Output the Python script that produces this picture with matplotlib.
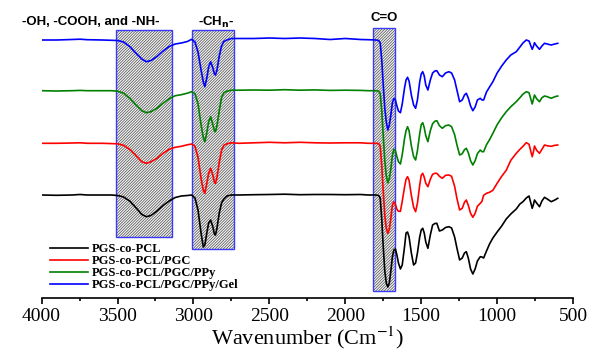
import numpy as np
import matplotlib.pyplot as plt
from matplotlib.patches import Rectangle

# wavenumber grid (cm-1)
wavenumber = [4000, 3900, 3800, 3747, 3700, 3600, 3540, 3500, 3460, 3420, 3380, 3340, 3310, 3280, 3240,
              3200, 3160, 3120, 3080, 3040, 3012, 2990, 2970, 2950, 2935, 2925, 2912, 2900, 2887, 2872,
              2862, 2855, 2845, 2830, 2815, 2800, 2780, 2750, 2700, 2600, 2500, 2400, 2300, 2200, 2100,
              2000, 1900, 1850, 1800, 1780, 1770, 1760, 1750, 1740, 1730, 1720, 1710, 1700, 1690, 1680,
              1670, 1660, 1650, 1637, 1625, 1610, 1600, 1590, 1580, 1565, 1550, 1537, 1525, 1510, 1500,
              1490, 1480, 1470, 1456, 1440, 1425, 1410, 1397, 1380, 1361, 1340, 1318, 1300, 1280, 1265,
              1247, 1230, 1215, 1203, 1190, 1175, 1160, 1145, 1130, 1111, 1100, 1089, 1070, 1050, 1028,
              1000, 970, 940, 910, 874, 850, 830, 808, 790, 769, 760, 754, 740, 721, 705,
              688, 670, 644, 620, 601]

# absorption depth below each baseline (a.u.)
pgs_pcl = [0, 0.3, 0, -0.5, 0, 0, 0, 0.5, 2, 6, 12.5, 19.5, 21.7, 20.5, 16,
           10.5, 6, 2.5, 1, 0.5, 0, 3, 15, 38, 52, 50, 38, 28, 25, 32,
           39, 40, 33, 18, 8, 4, 1, 0, 0, -0.3, -0.5, -0.8, -0.3, -0.5, -0.5,
           -0.3, -0.5, 0, 0, 0.5, 3, 24, 52, 76, 88, 92, 88, 76, 62, 55,
           54, 60, 68, 74, 70, 52, 38, 37, 42, 58, 70, 68, 58, 42, 35,
           33.3, 38, 47, 53.3, 40, 30, 28.5, 28.3, 36, 35, 32.5, 31.7, 33, 42, 53,
           65, 63, 58, 56.7, 63, 74, 79, 74, 66, 61.7, 62, 63, 56, 49, 43,
           37, 31, 24, 19, 14, 9, 6.7, 3, 1, 13.3, 9, 5, 8, 11.7, 6,
           2.3, 4, 6.7, 5, 3.3]
pgs_pcl_pgc = [0, 0, -0.3, -0.5, 0, 0, 0.3, 0.5, 2, 6, 12, 18.5, 20, 18.5, 15,
               10, 6, 4, 3, 1.5, 0.7, 3, 14, 35, 47, 50, 40, 30, 25, 32,
               39, 40, 34, 19, 7, 2, 0.5, -0.5, 0, -0.5, -1, -0.5, -1, -0.5, -0.3,
               -0.5, -0.5, 0, 0, 0.3, 3, 22, 48, 72, 85, 90, 86, 75, 62, 58.5,
               61, 66, 68, 68, 58, 44, 36, 33.4, 37, 52, 64, 68.4, 60, 42, 32,
               30, 34, 40, 43.4, 36, 31, 30, 30, 33, 35, 32, 31.7, 33, 43, 55,
               66.7, 65, 59, 56.7, 62, 70, 74, 70, 63, 60, 58, 52, 50, 49, 47,
               40, 33, 27, 17, 10, 6, 3, -0.6, 1, 13.4, 8, 2.7, 7, 10, 6,
               1.7, 2.5, 3, 2, 1.7]
pgs_pcl_pgc_ppy = [0, 0.3, 0, -0.3, 0, 0, 0, 0.5, 2.5, 7.5, 14, 20, 22, 21, 17.5,
                   12.5, 8, 5, 4, 2.5, 1, 3, 13, 34, 47, 51, 42, 31, 26, 34,
                   40, 41, 35, 20, 7, 2, 0.5, -0.5, -0.5, -0.7, -0.5, -1, -0.5, -0.8, -0.3,
                   -0.5, -0.3, 0, 0, 0.5, 3, 20, 45, 70, 85, 92, 88, 78, 65, 58.5,
                   60, 66, 71, 73.3, 64, 48, 40, 36, 40, 55, 66, 69.3, 60, 43, 34,
                   32, 37, 45, 51, 40, 33, 30.5, 30, 35, 37.6, 35, 34.3, 36, 44, 54,
                   64.3, 63, 59, 57.6, 62, 70, 74.3, 70, 63, 59.3, 61, 61, 54, 49, 42.6,
                   34, 27, 21, 16, 11, 7, 3.5, 1, 2, 13.3, 8, 4.3, 8, 11, 7,
                   5.3, 6, 7.6, 6, 5.3]
pgs_pcl_pgc_ppy_gel = [0, 0, -0.5, -0.8, -0.3, 0, 0.3, 0.5, 2, 6.5, 13, 19, 21.7, 20.5, 16.5,
                       11, 6.5, 4, 3, 1.5, -0.7, 2, 12, 30, 42, 46.7, 38, 27, 21.7, 28,
                       34, 35, 30, 16, 6, 1.5, 0, -1.5, -1.5, -1.5, -2, -1.5, -2, -1.5, -0.5,
                       -1.5, -0.5, -0.3, 0, 0.5, 3, 20, 45, 68, 82, 90, 85, 75, 63, 58.5,
                       60, 66, 71, 72.7, 64, 48, 40, 37.3, 41, 55, 65, 68.3, 60, 42, 34,
                       31.7, 36, 45, 50, 40, 33, 31, 30.7, 35, 36.7, 33, 31.7, 33, 40, 50,
                       61.7, 60, 55, 53.3, 58, 66, 70.7, 67, 60, 58.3, 60, 60, 52, 47, 41.7,
                       33, 26, 20, 15, 11.7, 7, 3, 0, 1, 9.3, 6, 2.7, 6, 9.3, 6,
                       3.3, 4, 5, 4, 3.3]

names = ['PGS-co-PCL', 'PGS-co-PCL/PGC', 'PGS-co-PCL/PGC/PPy', 'PGS-co-PCL/PGC/PPy/Gel']
colors = ['black', 'red', 'green', 'blue']
offsets = [103, 154.7, 207.3, 258]

# shaded band regions: (high, low) wavenumber, bottom, top
bands = [(3510, 3140, 61, 268), (3010, 2730, 49, 268), (1820, 1675, 7.3, 269.7)]
band_labels = ['-OH, -COOH, and -NH-', r'-CH$_{\mathbf{n}}$-', 'C=O']
band_label_pos = [(3675, 276), (2848, 276), (1741, 280)]

plt.rcParams['hatch.linewidth'] = 0.5

fig = plt.figure(figsize=(5.92, 3.51), dpi=100)
ax = fig.add_axes([0.0703, 0.151, 0.8977, 0.849])

for hi, lo, bottom, top in bands:
    ax.add_patch(Rectangle((lo, bottom), hi - lo, top - bottom, facecolor='#f4f4f4',
                           edgecolor='#4a4a4a', hatch='////////////', linewidth=0, zorder=1))
    ax.add_patch(Rectangle((lo, bottom), hi - lo, top - bottom, fill=False,
                           edgecolor='#3a3aff', linewidth=1.0, zorder=1.5))

curves = [pgs_pcl, pgs_pcl_pgc, pgs_pcl_pgc_ppy, pgs_pcl_pgc_ppy_gel]
w = np.array(wavenumber)
for depth, off, c, name in zip(curves, offsets, colors, names):
    ax.plot(w, off - np.array(depth), color=c, lw=1.2, label=name, zorder=3)

for txt, (x, y) in zip(band_labels, band_label_pos):
    ax.text(x, y, txt, ha='center', va='center', fontsize=9.5, fontweight='bold',
            family='Liberation Sans', math_fontfamily='dejavusans')

ax.set_xlim(4000, 500)
ax.set_ylim(0, 298)
ax.set_xticks(np.arange(4000, 499, -500))
ax.set_xticks(np.arange(3750, 500, -500), minor=True)
for s in ['left', 'right', 'top']:
    ax.spines[s].set_visible(False)
ax.spines['bottom'].set_linewidth(1.2)
ax.set_yticks([])
ax.tick_params(axis='x', which='major', direction='out', length=4, width=1.2, pad=3)
ax.tick_params(axis='x', which='minor', direction='out', length=2.5, width=1.2)
for lab in ax.get_xticklabels():
    lab.set_family('Liberation Serif')
    lab.set_fontsize(14)
ax.set_xlabel(r'Wavenumber (Cm$^{-1}$)', family='Liberation Serif', fontsize=16,
              math_fontfamily='stix', labelpad=0)

ax.legend(loc='upper left', bbox_to_anchor=(0.0158, 0.1846), frameon=False,
          prop={'family': 'Liberation Serif', 'weight': 'bold', 'size': 9},
          handlelength=3.0, handletextpad=0.35, labelspacing=0.0,
          borderpad=0, borderaxespad=0)

plt.savefig('out.png', dpi=100)
